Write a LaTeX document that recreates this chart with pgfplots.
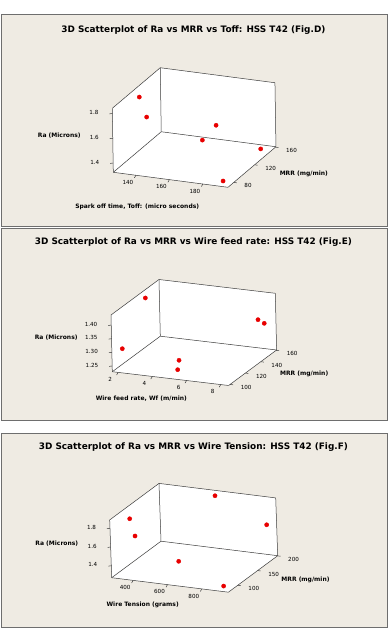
\documentclass[border=0pt]{standalone}
\usepackage{pgfplots}
\pgfplotsset{compat=1.18}
\usepackage{fontspec}
\setmainfont{DejaVu Sans}
\definecolor{panelbg}{RGB}{239,235,227}
\definecolor{panelborder}{RGB}{110,110,110}
\definecolor{ptred}{RGB}{232,0,0}
\definecolor{boxline}{RGB}{60,60,60}
\tikzset{tk/.style={draw=boxline, line width=0.5pt}}
\pgfplotsset{
  minitab/.style={
    clip=false,
    axis on top,
    anchor=south west,
    tick pos=left,
    major tick length=0pt,
    axis line style={draw=boxline, line width=0.5pt},
    tick style={draw=none},
    ticklabel style={font=\fontsize{5.6}{6}\selectfont, inner sep=0pt},
    /pgf/number format/assume math mode=true,
    xticklabel style={anchor=center, xshift=-8pt, yshift=-7.3pt},
    yticklabel style={anchor=west, xshift=10.5pt, yshift=-3.4pt},
    zticklabel style={anchor=east, xshift=-13.8pt, yshift=1pt},
  },
  pts/.style={only marks, mark=*, mark size=2.1pt, color=ptred, mark options={draw=ptred, fill=ptred}},
}
\newcommand{\lab}{\fontsize{6}{7}\selectfont\bfseries}
\newcommand{\ttl}{\fontsize{8.9}{10}\selectfont\bfseries}
\begin{document}
\begin{tikzpicture}
\fill[white] (0pt,0pt) rectangle (390pt,640pt);
% panels
\filldraw[fill=panelbg, draw=panelborder, line width=0.8pt] (1pt,626pt) rectangle (387pt,414pt);
\filldraw[fill=panelbg, draw=panelborder, line width=0.8pt] (1pt,412pt) rectangle (387pt,220pt);
\filldraw[fill=panelbg, draw=panelborder, line width=0.8pt] (1pt,207pt) rectangle (387pt,13pt);
% titles
\node[anchor=base] at (193.4pt,607.7pt) {\ttl 3D Scatterplot of Ra vs MRR vs Toff: HSS T42 (Fig.D)};
\node[anchor=base] at (193.4pt,395pt) {\ttl 3D Scatterplot of Ra vs MRR vs Wire feed rate: HSS T42 (Fig.E)};
\node[anchor=base] at (193.4pt,190pt) {\ttl 3D Scatterplot of Ra vs MRR vs Wire Tension: HSS T42 (Fig.F)};
% axis labels
\node at (59.3pt,504pt) {\lab Ra (Microns)};
\node at (303.8pt,465.7pt) {\lab MRR (mg/min)};
\node at (137.2pt,433pt) {\lab Spark off time, Toff: (micro seconds)};
\node at (56.2pt,302.7pt) {\lab Ra (Microns)};
\node at (304.2pt,266pt) {\lab MRR (mg/min)};
\node at (141.3pt,241pt) {\lab Wire feed rate, Wf (m/min)};
\node at (56.8pt,96.3pt) {\lab Ra (Microns)};
\node at (305.5pt,60pt) {\lab MRR (mg/min)};
\node at (142.7pt,35.3pt) {\lab Wire Tension (grams)};

% ---------- Panel D ----------
\begin{axis}[minitab, at={(112.3pt,452.7pt)},
  x={(1.67445pt,-0.21898pt)}, y={(0.52174pt,0.44130pt)}, z={(-1.9342pt,123.791pt)},
  xmin=126.5, xmax=195, ymin=69, ymax=160.9, zmin=1.325, zmax=1.842,
  xtick={140,160,180}, ytick={80,120,160}, ztick={1.4,1.6,1.8},
  xticklabels={140,160,180}, yticklabels={80,120,160}, zticklabels={1.4,1.6,1.8}]
\fill[white] (axis cs:126.5,69,1.325) -- (axis cs:195,69,1.325) -- (axis cs:195,160.9,1.325) -- (axis cs:126.5,160.9,1.325) -- cycle;
\fill[white] (axis cs:126.5,69,1.325) -- (axis cs:126.5,160.9,1.325) -- (axis cs:126.5,160.9,1.842) -- (axis cs:126.5,69,1.842) -- cycle;
\fill[white] (axis cs:126.5,160.9,1.325) -- (axis cs:195,160.9,1.325) -- (axis cs:195,160.9,1.842) -- (axis cs:126.5,160.9,1.842) -- cycle;
\draw[tk] (axis cs:126.5,69,1.4) -- ++(-3pt,-0.4pt);
\draw[tk] (axis cs:126.5,69,1.6) -- ++(-3pt,-0.4pt);
\draw[tk] (axis cs:126.5,69,1.8) -- ++(-3pt,-0.4pt);
\draw[tk] (axis cs:140,69,1.325) -- ++(-1.5pt,-2.6pt);
\draw[tk] (axis cs:160,69,1.325) -- ++(-1.5pt,-2.6pt);
\draw[tk] (axis cs:180,69,1.325) -- ++(-1.5pt,-2.6pt);
\draw[tk] (axis cs:195,80,1.325) -- ++(3pt,-0.4pt);
\draw[tk] (axis cs:195,120,1.325) -- ++(3pt,-0.4pt);
\draw[tk] (axis cs:195,160,1.325) -- ++(3pt,-0.4pt);
\addplot3[pts] coordinates {
(129.6,110.6,1.790) (129.6,123.9,1.581) (160.8,156.4,1.454)
(160.8,130.0,1.428) (191.9,141.8,1.370) (190.9,72.8,1.355)};
\end{axis}

% ---------- Panel E ----------
\begin{axis}[minitab, at={(111.0pt,254.5pt)},
  x={(17.1029pt,-2.02941pt)}, y={(0.768pt,0.568pt)}, z={(-6.25pt,272.596pt)},
  xmin=1.66, xmax=8.46, ymin=98.1, ymax=160.6, zmin=1.229, zmax=1.437,
  xtick={2,4,6,8}, ytick={100,120,140,160}, ztick={1.25,1.30,1.35,1.40},
  xticklabels={2,4,6,8}, yticklabels={100,120,140,160}, zticklabels={1.25,1.30,1.35,1.40}]
\fill[white] (axis cs:1.66,98.1,1.229) -- (axis cs:8.46,98.1,1.229) -- (axis cs:8.46,160.6,1.229) -- (axis cs:1.66,160.6,1.229) -- cycle;
\fill[white] (axis cs:1.66,98.1,1.229) -- (axis cs:1.66,160.6,1.229) -- (axis cs:1.66,160.6,1.437) -- (axis cs:1.66,98.1,1.437) -- cycle;
\fill[white] (axis cs:1.66,160.6,1.229) -- (axis cs:8.46,160.6,1.229) -- (axis cs:8.46,160.6,1.437) -- (axis cs:1.66,160.6,1.437) -- cycle;
\draw[tk] (axis cs:1.66,98.1,1.25) -- ++(-3pt,-0.4pt);
\draw[tk] (axis cs:1.66,98.1,1.30) -- ++(-3pt,-0.4pt);
\draw[tk] (axis cs:1.66,98.1,1.35) -- ++(-3pt,-0.4pt);
\draw[tk] (axis cs:1.66,98.1,1.40) -- ++(-3pt,-0.4pt);
\draw[tk] (axis cs:2,98.1,1.229) -- ++(-1.5pt,-2.6pt);
\draw[tk] (axis cs:4,98.1,1.229) -- ++(-1.5pt,-2.6pt);
\draw[tk] (axis cs:6,98.1,1.229) -- ++(-1.5pt,-2.6pt);
\draw[tk] (axis cs:8,98.1,1.229) -- ++(-1.5pt,-2.6pt);
\draw[tk] (axis cs:8.46,100,1.229) -- ++(3pt,-0.4pt);
\draw[tk] (axis cs:8.46,120,1.229) -- ++(3pt,-0.4pt);
\draw[tk] (axis cs:8.46,140,1.229) -- ++(3pt,-0.4pt);
\draw[tk] (axis cs:8.46,160,1.229) -- ++(3pt,-0.4pt);
\addplot3[pts] coordinates {
(1.97,135.8,1.4232) (1.97,104.8,1.3017) (4.96,111.8,1.2669)
(4.96,109.8,1.2365) (7.95,148.8,1.3610) (7.95,156.7,1.3312)};
\end{axis}

% ---------- Panel F ----------
\begin{axis}[minitab, at={(109.7pt,47.8pt)},
  x={(0.171618pt,-0.021324pt)}, y={(0.397581pt,0.294355pt)}, z={(-3.23625pt,93.5275pt)},
  xmin=275, xmax=955, ymin=76.5, ymax=200.5, zmin=1.272, zmax=1.890,
  xtick={400,600,800}, ytick={100,150,200}, ztick={1.4,1.6,1.8},
  xticklabels={400,600,800}, yticklabels={100,150,200}, zticklabels={1.4,1.6,1.8}]
\fill[white] (axis cs:275,76.5,1.272) -- (axis cs:955,76.5,1.272) -- (axis cs:955,200.5,1.272) -- (axis cs:275,200.5,1.272) -- cycle;
\fill[white] (axis cs:275,76.5,1.272) -- (axis cs:275,200.5,1.272) -- (axis cs:275,200.5,1.890) -- (axis cs:275,76.5,1.890) -- cycle;
\fill[white] (axis cs:275,200.5,1.272) -- (axis cs:955,200.5,1.272) -- (axis cs:955,200.5,1.890) -- (axis cs:275,200.5,1.890) -- cycle;
\draw[tk] (axis cs:275,76.5,1.4) -- ++(-3pt,-0.4pt);
\draw[tk] (axis cs:275,76.5,1.6) -- ++(-3pt,-0.4pt);
\draw[tk] (axis cs:275,76.5,1.8) -- ++(-3pt,-0.4pt);
\draw[tk] (axis cs:400,76.5,1.272) -- ++(-1.5pt,-2.6pt);
\draw[tk] (axis cs:600,76.5,1.272) -- ++(-1.5pt,-2.6pt);
\draw[tk] (axis cs:800,76.5,1.272) -- ++(-1.5pt,-2.6pt);
\draw[tk] (axis cs:955,100,1.272) -- ++(3pt,-0.4pt);
\draw[tk] (axis cs:955,150,1.272) -- ++(3pt,-0.4pt);
\draw[tk] (axis cs:955,200,1.272) -- ++(3pt,-0.4pt);
\addplot3[pts] coordinates {
(300.4,115.0,1.787) (300.4,126.6,1.566) (615,194.3,1.855)
(909.3,195.2,1.609) (604.8,104.0,1.436) (909.3,84.5,1.302)};
\end{axis}
\pgfresetboundingbox
\useasboundingbox (0pt,0pt) rectangle (390pt,640pt);
\end{tikzpicture}
\end{document}
